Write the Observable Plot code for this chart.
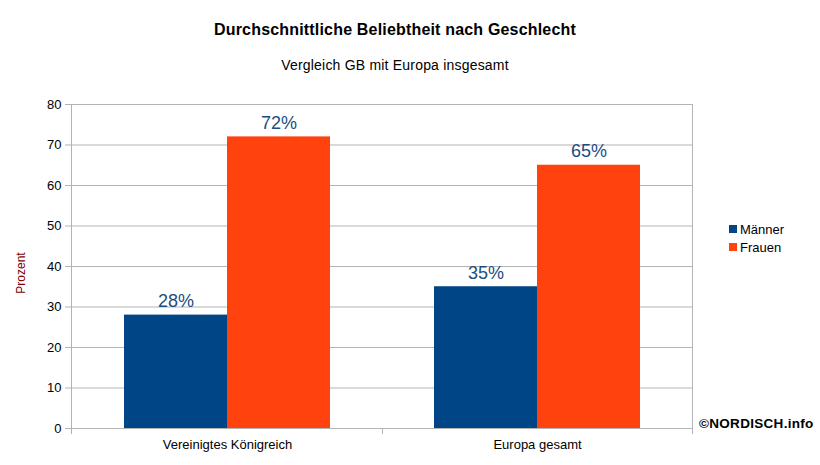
<!DOCTYPE html>
<html>
<head>
<meta charset="utf-8">
<script src="https://cdn.jsdelivr.net/npm/d3@7"></script>
<script src="https://cdn.jsdelivr.net/npm/@observablehq/plot@0.6"></script>
<style>
  html, body { margin: 0; padding: 0; background: #fff; }
  body { font-family: "Liberation Sans", Arial, sans-serif; color: #000; }
  #wrap { position: relative; width: 820px; height: 465px; overflow: hidden; }
  #header { position: relative; width: 820px; height: 90px; }
  .abs { position: absolute; white-space: nowrap; line-height: 1; }
  #title { left: 0; width: 790px; text-align: center; top: 21.5px; font-size: 16px; font-weight: bold; letter-spacing: 0.18px; }
  #subtitle { left: 0; width: 790px; text-align: center; top: 58px; font-size: 14px; letter-spacing: 0.2px; }
  #ylabel { left: 21px; top: 273px; font-size: 12px; color: #800000; transform: translate(-50%, -50%) rotate(-90deg); }
  #legend { left: 729px; top: 220px; font-size: 13px; }
  .lg { display: flex; align-items: center; height: 18px; }
  .sw { width: 8px; height: 8px; margin-right: 3px; }
  #copy { left: 699px; top: 417px; font-size: 13.5px; font-weight: bold; letter-spacing: 0.3px; }
  svg { display: block; }
</style>
</head>
<body>
<div id="wrap">
  <div id="header">
    <div id="title" class="abs">Durchschnittliche Beliebtheit nach Geschlecht</div>
    <div id="subtitle" class="abs">Vergleich GB mit Europa insgesamt</div>
  </div>
  <div id="chart"></div>
  <div id="ylabel" class="abs">Prozent</div>
  <div id="legend" class="abs"></div>
  <div id="copy" class="abs">©NORDISCH.info</div>
</div>
<script>
const categories = ["Vereinigtes Königreich", "Europa gesamt"];
const groups = ["Männer", "Frauen"];
const maenner = [28, 35];
const frauen = [72, 65];
const yTicks = [0, 10, 20, 30, 40, 50, 60, 70, 80];
const colors = ["#004586", "#ff420e"];

const data = categories.flatMap((c, i) => [
  {cat: c, sex: groups[0], value: maenner[i]},
  {cat: c, sex: groups[1], value: frauen[i]}
]);

const gray = "#b3b3b3";

const plot = Plot.plot({
  width: 820,
  height: 375,
  marginTop: 14,
  marginBottom: 37,
  marginLeft: 71,
  marginRight: 128,
  style: {fontFamily: "'Liberation Sans', Arial, sans-serif", fontSize: "13px", color: "#000", background: "#fff"},
  fx: {domain: categories, padding: 0, label: null, axis: null},
  x: {domain: groups, padding: 0, paddingInner: 0, paddingOuter: 0.5, axis: null},
  y: {domain: [0, 80], label: null},
  color: {domain: groups, range: colors},
  marks: [
    Plot.gridY(yTicks, {stroke: gray, strokeOpacity: 1}),
    Plot.barY(data, {fx: "cat", x: "sex", y: "value", fill: "sex"}),
    Plot.text(data, {fx: "cat", x: "sex", y: "value", text: d => d.value + "%", lineAnchor: "bottom", dy: -8, fill: "#1c4d80", fontSize: 18}),
    Plot.ruleY([0, 80], {stroke: gray}),
    Plot.axisY(yTicks, {tickSize: 7, tickPadding: 4, stroke: gray, fill: "#000", label: null}),
    Plot.axisFx({anchor: "bottom", tickSize: 0, tickPadding: 11, label: null, fill: "#000"})
  ]
});

document.getElementById("chart").appendChild(plot);

// frame lines and category boundary ticks derived from scales
const fxs = plot.scale("fx");
const ys = plot.scale("y");
const band = d3.scaleBand().domain(fxs.domain).range(fxs.range).padding(0);
const edges = fxs.domain.map(d => band(d)).concat([band(fxs.domain[fxs.domain.length - 1]) + band.bandwidth()]);
const y0 = ys.apply(0), yTop = ys.apply(80);
const svg = d3.select(plot);
const g = svg.append("g").attr("stroke", gray).attr("shape-rendering", "crispEdges");
edges.forEach((x, i) => {
  const isBorder = i === 0 || i === edges.length - 1;
  g.append("line")
    .attr("x1", Math.round(x) + 0.5).attr("x2", Math.round(x) + 0.5)
    .attr("y1", isBorder ? yTop : y0).attr("y2", y0 + 6);
});

// legend
const legend = d3.select("#legend");
groups.forEach((gname, i) => {
  const row = legend.append("div").attr("class", "lg");
  row.append("div").attr("class", "sw").style("background", colors[i]);
  row.append("span").text(gname);
});
</script>
</body>
</html>
